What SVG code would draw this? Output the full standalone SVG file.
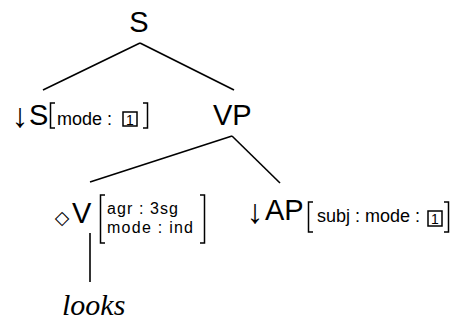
<svg xmlns="http://www.w3.org/2000/svg" width="450" height="323" viewBox="0 0 450 323">
<style>
.lbl{font-family:"Liberation Sans",Arial,sans-serif;font-size:29px;fill:#000}
.arr{font-family:"Liberation Sans","DejaVu Sans",sans-serif;font-size:34px;fill:#000}
.dia{font-family:"DejaVu Sans",sans-serif;font-size:19px;fill:#000}
.ft{font-family:"Liberation Sans",Arial,sans-serif;font-size:18px;fill:#000}
.ft2{font-family:"Liberation Sans",Arial,sans-serif;font-size:16px;fill:#000}
.one{font-family:"Liberation Sans",Arial,sans-serif;font-size:14px;fill:#000;text-anchor:middle}
.box{fill:none;stroke:#000;stroke-width:1.5}
.br{fill:none;stroke:#000;stroke-width:1.5}
.edge{stroke:#000;stroke-width:1.6;fill:none}
.word{font-family:"Liberation Serif","Times New Roman",serif;font-style:italic;font-size:30px;fill:#000}
</style>
<rect width="450" height="323" fill="#fff"/>
<g id="connectors">
<line class="edge" x1="140" y1="43" x2="43" y2="90"/>
<line class="edge" x1="140" y1="43" x2="234" y2="90"/>
<line class="edge" x1="232" y1="136" x2="90" y2="182"/>
<line class="edge" x1="232" y1="136" x2="280" y2="183"/>
<line class="edge" x1="90" y1="233" x2="90" y2="282"/>
</g>
<g id="node-S">
<text class="lbl" x="139" y="32" text-anchor="middle">S</text>
</g>
<g id="node-S-subst">
<text class="arr" x="20" y="127" text-anchor="middle">↓</text>
<text class="lbl" x="29" y="125">S</text>
<path class="br" d="M55,103 H50.5 V128 H55"/>
<text class="ft" x="57" y="125">mode :</text>
<rect class="box" x="123" y="112" width="14" height="14"/>
<text class="one" x="130" y="124.5">1</text>
<path class="br" d="M143,103 H147.5 V128 H143"/>
</g>
<g id="node-VP">
<text class="lbl" x="213" y="125">VP</text>
</g>
<g id="node-V">
<text class="dia" x="62" y="224" text-anchor="middle">◇</text>
<text class="lbl" x="72" y="223">V</text>
<path class="br" d="M105,195 H100.5 V243 H105"/>
<text class="ft2" x="107" y="214" textLength="71" lengthAdjust="spacing">agr : 3sg</text>
<text class="ft2" x="107" y="233" textLength="86" lengthAdjust="spacing">mode : ind</text>
<path class="br" d="M200,195 H204.5 V243 H200"/>
</g>
<g id="node-AP">
<text class="arr" x="255" y="223" text-anchor="middle">↓</text>
<text class="lbl" x="265" y="220">AP</text>
<path class="br" d="M313,202 H308.5 V232 H313"/>
<text class="ft" x="317" y="222">subj : mode :</text>
<rect class="box" x="428" y="211" width="14" height="15"/>
<text class="one" x="435" y="224">1</text>
<path class="br" d="M444,202 H448.5 V232 H444"/>
</g>
<g id="node-looks">
<text class="word" x="62" y="315">looks</text>
</g>
</svg>
